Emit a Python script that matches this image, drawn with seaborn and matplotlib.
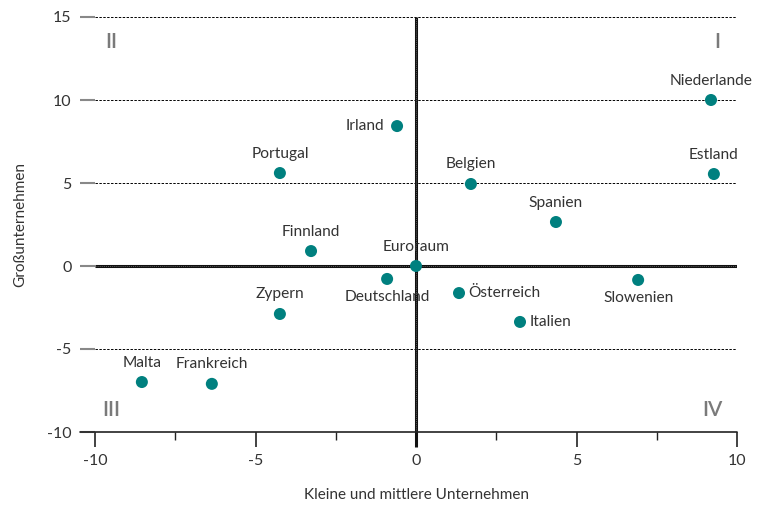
import matplotlib
matplotlib.use("Agg")
import matplotlib.pyplot as plt
import seaborn as sns
import pandas as pd

countries = ["Niederlande", "Estland", "Irland", "Portugal", "Belgien", "Spanien",
             "Finnland", "Euroraum", "Deutschland", "Österreich", "Slowenien",
             "Italien", "Zypern", "Malta", "Frankreich"]
kmu = [9.19, 9.28, -0.59, -4.24, 1.71, 4.36, -3.27, 0.0, -0.90, 1.34, 6.92, 3.24, -4.24, -8.54, -6.36]
gross = [10.0, 5.54, 8.43, 5.6, 4.94, 2.65, 0.9, 0.0, -0.78, -1.63, -0.84, -3.37, -2.89, -6.99, -7.1]
# label placement: 'above', 'below', 'right', 'left'
placement = ["above", "above", "left", "above", "above", "above", "above", "above",
             "below", "right", "below", "right", "above", "above", "above"]

xticks = [-10, -5, 0, 5, 10]
yticks = [-10, -5, 0, 5, 10, 15]
quadrants = [("I", 9.38, 13.5), ("II", -9.5, 13.5), ("III", -9.5, -8.7), ("IV", 9.25, -8.7)]

sns.set_theme(style="white")
plt.rcParams['font.family'] = ['Lato', 'DejaVu Sans']

df = pd.DataFrame({"Land": countries, "KMU": kmu, "GU": gross})

fig = plt.figure(figsize=(7.7, 5.11), dpi=100)
ax = fig.add_axes([95/770, 79/511, 642/770, 415/511])
ax.set_xlim(-10, 10)
ax.set_ylim(-10, 15)

# grid lines
for yv in [15, 10, 5, -5]:
    ax.plot([-10, 10], [yv, yv], color="black", lw=0.7, ls=(0, (2.5, 1.5)), zorder=1)
# zero lines
ax.plot([-10, 10], [0, 0], color="#111111", lw=2.2, zorder=2, solid_capstyle="butt")
ax.plot([-10, 10], [0, 0], color="#777777", lw=0.5, ls=(0, (1.5, 1.5)), zorder=2)
ax.plot([0, 0], [-10.9, 15], color="#111111", lw=2.2, zorder=2, clip_on=False, solid_capstyle="butt")
ax.plot([0, 0], [-10, 15], color="#777777", lw=0.5, ls=(0, (1.5, 1.5)), zorder=2)
# bottom axis line extended to the left
ax.plot([-10.47, 10], [-10, -10], color="#222222", lw=1.2, clip_on=False, zorder=3)

sns.scatterplot(data=df, x="KMU", y="GU", ax=ax, color="#00807f", s=75,
                edgecolor="none", zorder=5, legend=False)

fs = 11.2
for name, x, y, p in zip(countries, kmu, gross, placement):
    if p == "above":
        ax.annotate(name, (x, y), xytext=(0, 9), textcoords="offset points",
                    ha="center", va="bottom", fontsize=fs, color="#333333")
    elif p == "below":
        ax.annotate(name, (x, y), xytext=(0, -8), textcoords="offset points",
                    ha="center", va="top", fontsize=fs, color="#333333")
    elif p == "right":
        ax.annotate(name, (x, y), xytext=(7, 0), textcoords="offset points",
                    ha="left", va="center", fontsize=fs, color="#333333")
    else:
        ax.annotate(name, (x, y), xytext=(-9, 0), textcoords="offset points",
                    ha="right", va="center", fontsize=fs, color="#333333")

for lab, x, y in quadrants:
    ax.text(x, y, lab, ha="center", va="center",
            fontsize=15, color="#7a7a7a", fontweight="semibold")

for s in ax.spines.values():
    s.set_visible(False)

ax.set_xticks(xticks)
ax.set_xticks([-7.5, -2.5, 2.5, 7.5], minor=True)
ax.set_yticks(yticks)
ax.tick_params(axis="x", which="major", bottom=True, length=11, width=1.2, color="#222222",
               labelsize=11.5, labelcolor="#333333", pad=5)
ax.tick_params(axis="x", which="minor", bottom=True, length=6, width=1.0, color="#222222")
ax.tick_params(axis="y", left=True, length=11, width=1.5, color="#888888",
               labelsize=11.5, labelcolor="#333333", pad=6)
ax.set_xticklabels([str(v) for v in xticks])
ax.set_yticklabels([str(v) for v in yticks])

ax.set_xlabel("Kleine und mittlere Unternehmen", fontsize=11, color="#333333", labelpad=14)
ax.set_ylabel("Großunternehmen", fontsize=11, color="#333333", labelpad=14)

fig.savefig("out.png", dpi=100)
